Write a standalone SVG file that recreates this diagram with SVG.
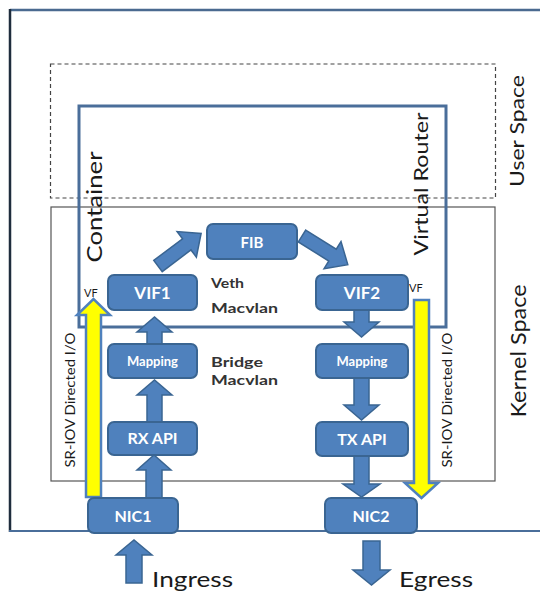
<svg xmlns="http://www.w3.org/2000/svg" width="540" height="592" viewBox="0 0 540 592">
<style>
.box{fill:#4f81bd;stroke:#3a6592;stroke-width:2}
.bl{fill:#fff;font-family:Lato,"Liberation Sans",sans-serif;font-weight:bold;text-anchor:middle}
.arr{fill:#4f81bd;stroke:#3a6592;stroke-width:1.5}
.yarr{fill:#ffff00;stroke:#4f81bd;stroke-width:2.5}
.t{font-family:Lato,"Liberation Sans",sans-serif;fill:#1a1a1a}
.lab{font-family:Lato,"Liberation Sans",sans-serif;fill:#333;font-size:14px;font-weight:bold}
</style>
<rect width="540" height="592" fill="#fff"/>
<g id="frame">
<line x1="10" y1="10" x2="540" y2="10" stroke="#4a6a90" stroke-width="2.5"/>
<line x1="10" y1="9" x2="10" y2="532" stroke="#1f2d3d" stroke-width="2.5"/>
<line x1="9" y1="531" x2="540" y2="531" stroke="#4a6e9a" stroke-width="2"/>
</g>
<g id="user-space">
<rect x="50.5" y="64" width="445" height="134" fill="none" stroke="#444" stroke-width="1.2" stroke-dasharray="4,3"/>
<text class="t" font-size="20" text-anchor="middle" transform="translate(524,131) rotate(-90)" textLength="112" lengthAdjust="spacingAndGlyphs">User Space</text>
</g>
<g id="kernel-space">
<rect x="51" y="207" width="444" height="274" fill="none" stroke="#555" stroke-width="1.2"/>
<text class="t" font-size="22" text-anchor="middle" transform="translate(526,351) rotate(-90)" textLength="133" lengthAdjust="spacingAndGlyphs">Kernel Space</text>
</g>
<g id="container">
<rect x="79" y="106" width="367" height="221" fill="none" stroke="#4a6e9a" stroke-width="3"/>
<text class="t" font-size="21" text-anchor="middle" transform="translate(102,207) rotate(-90)" textLength="111" lengthAdjust="spacingAndGlyphs">Container</text>
<text class="t" font-size="20" text-anchor="middle" transform="translate(428,184) rotate(-90)" textLength="143" lengthAdjust="spacingAndGlyphs">Virtual Router</text>
</g>
<g id="connectors">
<path class="arr" d="M0,-7 L36,-7 L36,-16 L54,0 L36,16 L36,7 L0,7 Z" transform="translate(158,266) rotate(-37)"/>
<path class="arr" d="M0,-7 L36,-7 L36,-16 L54,0 L36,16 L36,7 L0,7 Z" transform="translate(302,236) rotate(32)"/>
<path class="arr" d="M147,344 L147,332 L137,332 L154.5,317 L172,332 L162,332 L162,344 Z"/>
<path class="arr" d="M147,422 L147,395 L137,395 L154.5,380 L172,395 L162,395 L162,422 Z"/>
<path class="arr" d="M146,498 L146,470 L137,470 L154,455 L171,470 L162,470 L162,498 Z"/>
<path class="arr" d="M354,310 L354,322 L344,322 L361.5,337 L379,322 L369,322 L369,310 Z"/>
<path class="arr" d="M354,378 L354,405 L344,405 L361.5,420 L379,405 L369,405 L369,378 Z"/>
<path class="arr" d="M354,456 L354,484 L343,484 L361.5,497 L380,484 L369,484 L369,456 Z"/>
<path class="arr" d="M126,583 L126,555 L116,555 L134,540 L152,555 L142,555 L142,583 Z"/>
<path class="arr" d="M363,541 L363,570 L353,570 L371.5,585 L390,570 L380,570 L380,541 Z"/>
<path class="yarr" d="M86,497 L86,315 L77,315 L93.5,299 L110,315 L101,315 L101,497 Z"/>
<path class="yarr" d="M414,300 L414,483 L405,483 L421.5,498 L438,483 L429,483 L429,300 Z"/>
</g>
<g id="labels">
<text class="t" font-size="11" x="84" y="297">VF</text>
<text class="t" font-size="11" x="409" y="292">VF</text>
<text class="t" font-size="13" text-anchor="middle" transform="translate(75,400) rotate(-90)" textLength="135" lengthAdjust="spacingAndGlyphs">SR-IOV Directed I/O</text>
<text class="t" font-size="13" text-anchor="middle" transform="translate(452,400) rotate(-90)" textLength="135" lengthAdjust="spacingAndGlyphs">SR-IOV Directed I/O</text>
<text class="lab" x="211" y="288" textLength="33" lengthAdjust="spacingAndGlyphs">Veth</text>
<text class="lab" x="211" y="313" textLength="67" lengthAdjust="spacingAndGlyphs">Macvlan</text>
<text class="lab" x="211" y="367" textLength="52" lengthAdjust="spacingAndGlyphs">Bridge</text>
<text class="lab" x="211" y="385" textLength="67" lengthAdjust="spacingAndGlyphs">Macvlan</text>
<text class="t" font-size="21" x="152" y="587" textLength="81" lengthAdjust="spacingAndGlyphs">Ingress</text>
<text class="t" font-size="21" x="399" y="587" textLength="74" lengthAdjust="spacingAndGlyphs">Egress</text>
</g>
<g id="fib"><rect class="box" x="207" y="224" width="90" height="35" rx="6"/><text class="bl" x="252" y="248" font-size="15">FIB</text></g>
<g id="vif1"><rect class="box" x="108" y="275" width="89" height="35" rx="6"/><text class="bl" x="152.5" y="299" font-size="17">VIF1</text></g>
<g id="vif2"><rect class="box" x="316" y="275" width="92" height="35" rx="6"/><text class="bl" x="362" y="299" font-size="17">VIF2</text></g>
<g id="mapping1"><rect class="box" x="108" y="344" width="89" height="34" rx="6"/><text class="bl" x="152.5" y="366" font-size="13">Mapping</text></g>
<g id="mapping2"><rect class="box" x="316" y="344" width="92" height="34" rx="6"/><text class="bl" x="362" y="366" font-size="13">Mapping</text></g>
<g id="rxapi"><rect class="box" x="108" y="422" width="89" height="33" rx="6"/><text class="bl" x="152.5" y="444" font-size="16">RX API</text></g>
<g id="txapi"><rect class="box" x="316" y="422" width="92" height="34" rx="6"/><text class="bl" x="362" y="445" font-size="16">TX API</text></g>
<g id="nic1"><rect class="box" x="88" y="498" width="90" height="35" rx="6"/><text class="bl" x="133" y="522" font-size="16">NIC1</text></g>
<g id="nic2"><rect class="box" x="325" y="498" width="92" height="35" rx="6"/><text class="bl" x="371" y="522" font-size="16">NIC2</text></g>
</svg>
